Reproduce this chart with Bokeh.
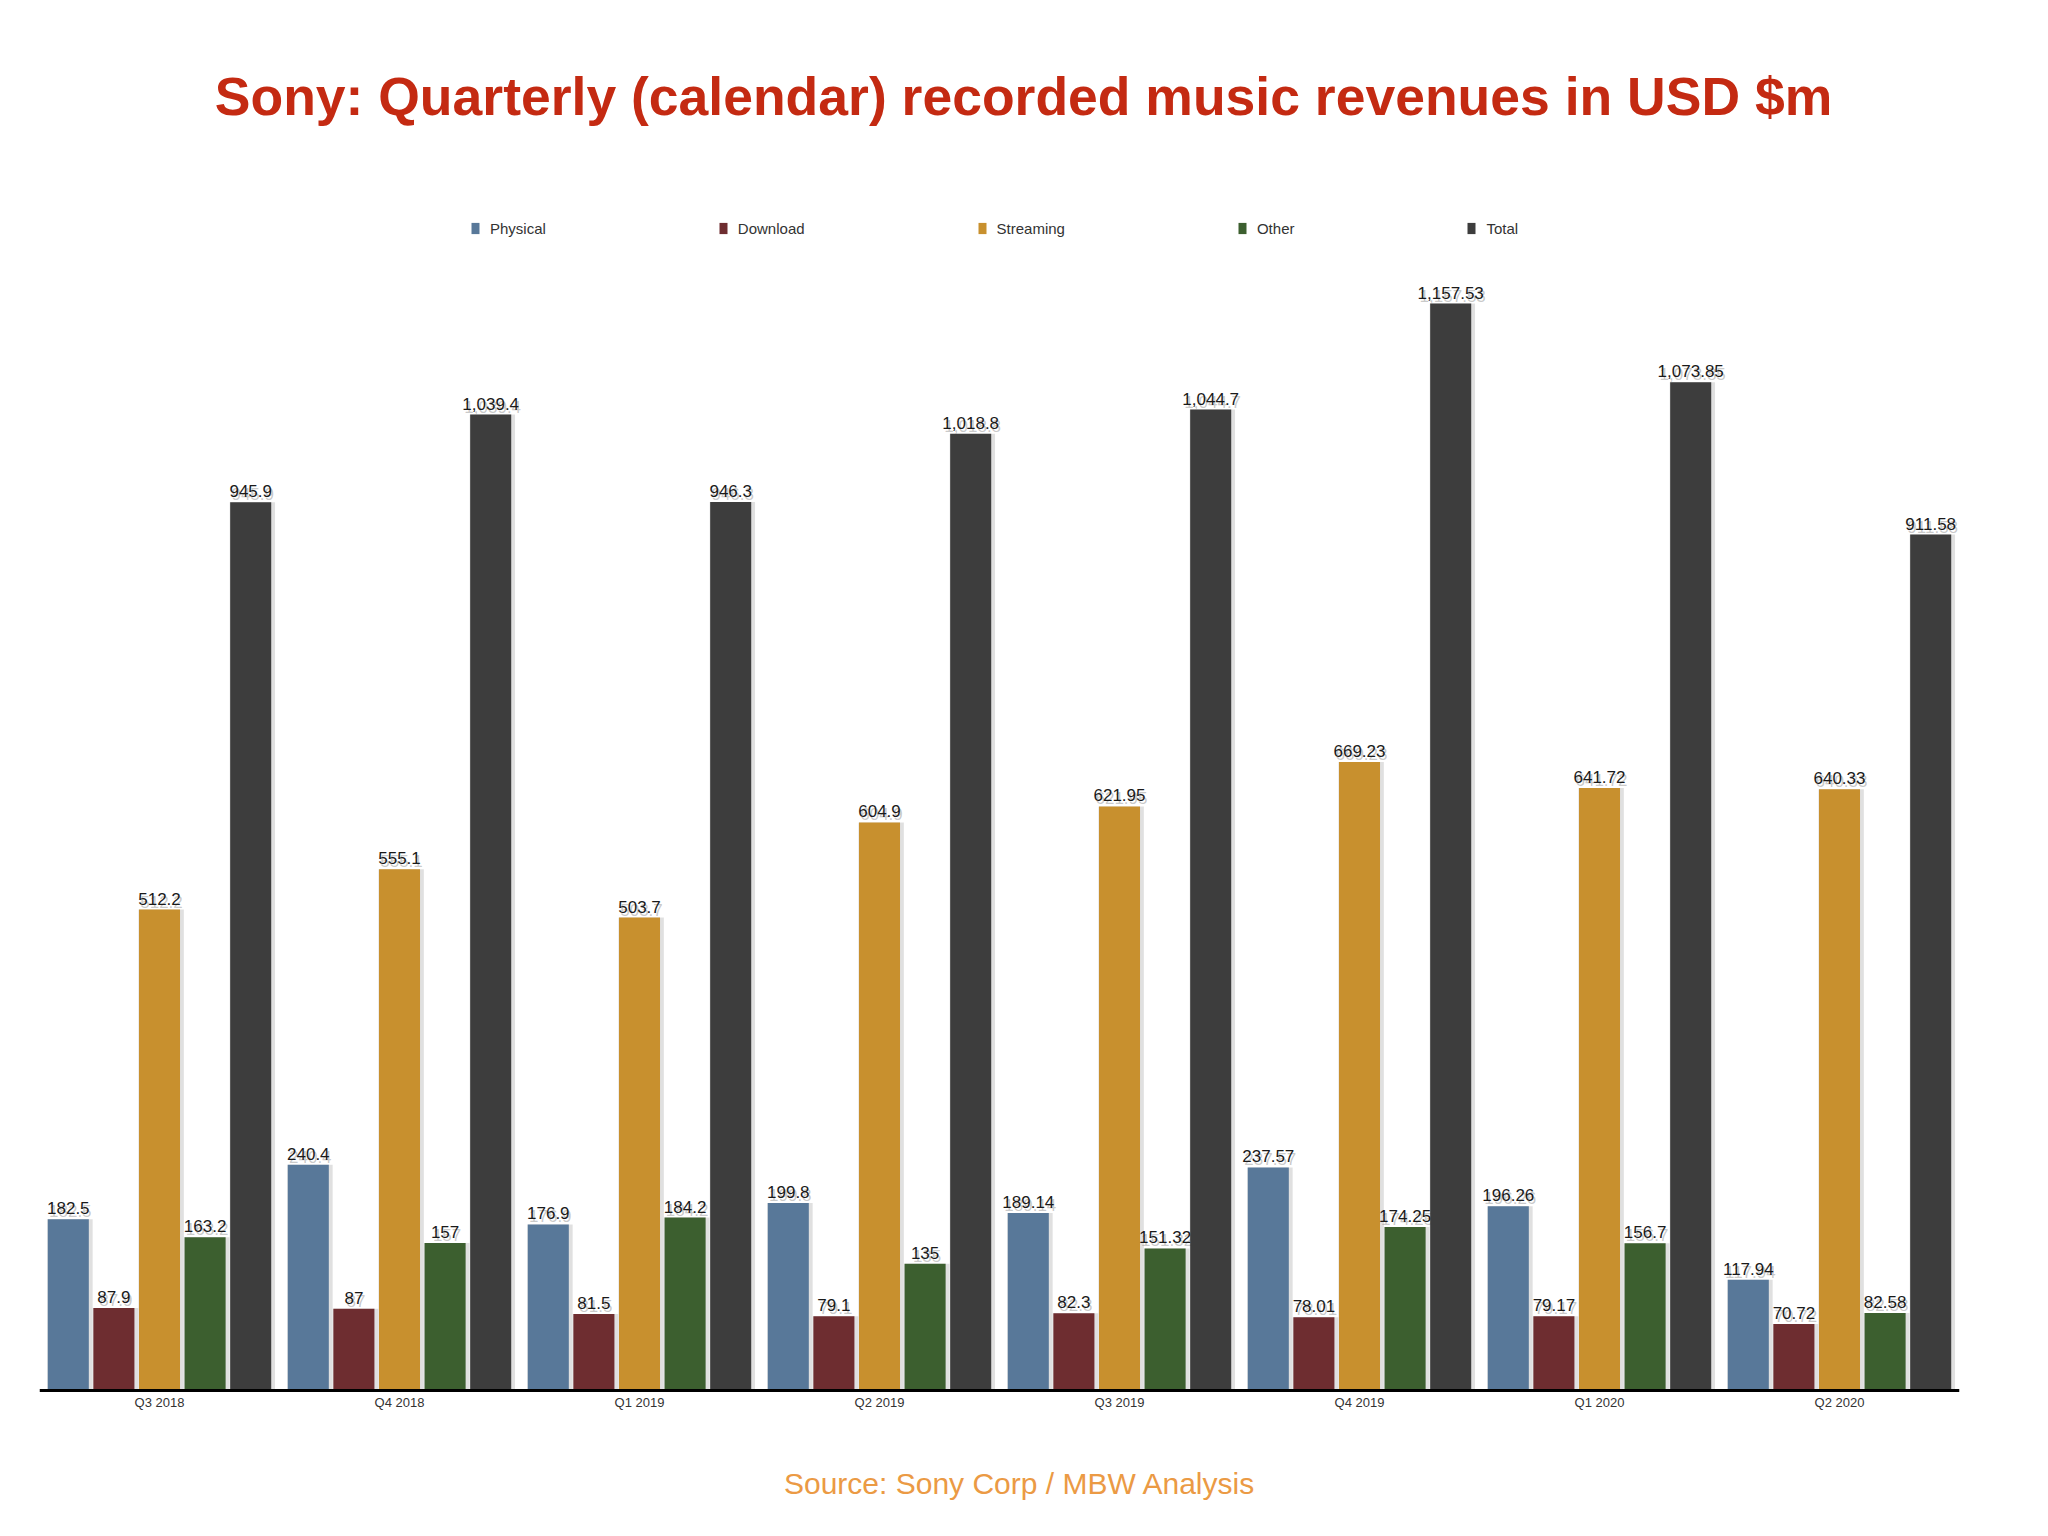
from bokeh.plotting import figure
from bokeh.models import ColumnDataSource, Label, Legend, LegendItem, FactorRange
from bokeh.transform import dodge
from bokeh.core.properties import value
from bokeh.embed import file_html
from bokeh.resources import INLINE

quarters = ["Q3 2018", "Q4 2018", "Q1 2019", "Q2 2019", "Q3 2019", "Q4 2019", "Q1 2020", "Q2 2020"]
physical = [182.5, 240.4, 176.9, 199.8, 189.14, 237.57, 196.26, 117.94]
download = [87.9, 87, 81.5, 79.1, 82.3, 78.01, 79.17, 70.72]
streaming = [512.2, 555.1, 503.7, 604.9, 621.95, 669.23, 641.72, 640.33]
other = [163.2, 157, 184.2, 135, 151.32, 174.25, 156.7, 82.58]
total = [945.9, 1039.4, 946.3, 1018.8, 1044.7, 1157.53, 1073.85, 911.58]

series_names = ["Physical", "Download", "Streaming", "Other", "Total"]
series_values = [physical, download, streaming, other, total]
colors = ["#587899", "#6e2d30", "#c8902e", "#3c5f2f", "#3d3d3d"]
offsets = [-0.38, -0.19, 0.0, 0.19, 0.38]
bar_w = 0.171


def fmt(v):
    s = f"{v:,.2f}".rstrip("0").rstrip(".")
    return s


px_per_unit = 0.939
frame_top_px = 1370     # pixels above the baseline
frame_bot_px = 120      # pixels below the baseline
frame_w = 1920

p = figure(
    x_range=FactorRange(factors=quarters, range_padding=0),
    y_range=(-frame_bot_px / px_per_unit, frame_top_px / px_per_unit),
    frame_width=frame_w, frame_height=frame_top_px + frame_bot_px,
    min_border_left=39, min_border_right=73, min_border_top=20, min_border_bottom=0,
    output_backend="svg", toolbar_location=None, y_axis_location=None,
    background_fill_color="white", border_fill_color="white",
)
p.outline_line_color = None
p.xgrid.visible = False
p.ygrid.visible = False

items = []
for name, vals, col, off in zip(series_names, series_values, colors, offsets):
    src = ColumnDataSource(dict(q=quarters, v=vals, lab=[fmt(v) for v in vals]))
    # soft shadow
    p.vbar(x=dodge("q", off + 0.007, range=p.x_range), top="v", width=bar_w + 0.018,
           source=src, fill_color="black", fill_alpha=0.12, line_color=None)
    r = p.vbar(x=dodge("q", off, range=p.x_range), top="v", width=bar_w,
               source=src, fill_color=col, line_color=None)
    items.append(LegendItem(label=name, renderers=[r]))
    p.text(x=dodge("q", off, range=p.x_range), y="v", text="lab", source=src,
           text_align="center", text_baseline="alphabetic", y_offset=-8, x_offset=2,
           text_font=value("Liberation Sans"), text_font_size="17px",
           text_color="#888888", text_alpha=0.45)
    p.text(x=dodge("q", off, range=p.x_range), y="v", text="lab", source=src,
           text_align="center", text_baseline="alphabetic", y_offset=-11,
           text_font=value("Liberation Sans"), text_font_size="17px",
           text_color="#1a1a1a")

legend = Legend(items=items, orientation="horizontal", location=(431, 1152 + frame_bot_px),
                spacing=172, glyph_width=10, glyph_height=14, label_height=20,
                label_standoff=10, padding=0, margin=0,
                border_line_alpha=0, background_fill_alpha=0,
                label_text_font="Liberation Sans", label_text_font_size="15px",
                label_text_color="#333333")
p.add_layout(legend, "center")

p.xaxis.fixed_location = 0
p.xaxis.axis_line_width = 3
p.xaxis.axis_line_color = "black"
p.xaxis.major_tick_line_color = None
p.xaxis.minor_tick_line_color = None
p.xaxis.major_label_standoff = -2
p.xaxis.major_label_text_font = "Liberation Sans"
p.xaxis.major_label_text_font_size = "13px"
p.xaxis.major_label_text_color = "#333333"

title = Label(x=4.1, y=1378, x_units="data", y_units="data",
              text="Sony: Quarterly (calendar) recorded music revenues in USD $m",
              text_align="center", text_baseline="alphabetic",
              text_font="Liberation Sans", text_font_style="bold",
              text_font_size="53.5px", text_color="#c42a12")
p.add_layout(title)

source_lab = Label(x=4.085, y=-99, x_units="data", y_units="data",
                   text="Source: Sony Corp / MBW Analysis",
                   text_align="center", text_baseline="alphabetic",
                   text_font="Liberation Sans", text_font_size="30px",
                   text_color="#eb9a44")
p.add_layout(source_lab)

open("out.html", "w").write(file_html(p, INLINE))
